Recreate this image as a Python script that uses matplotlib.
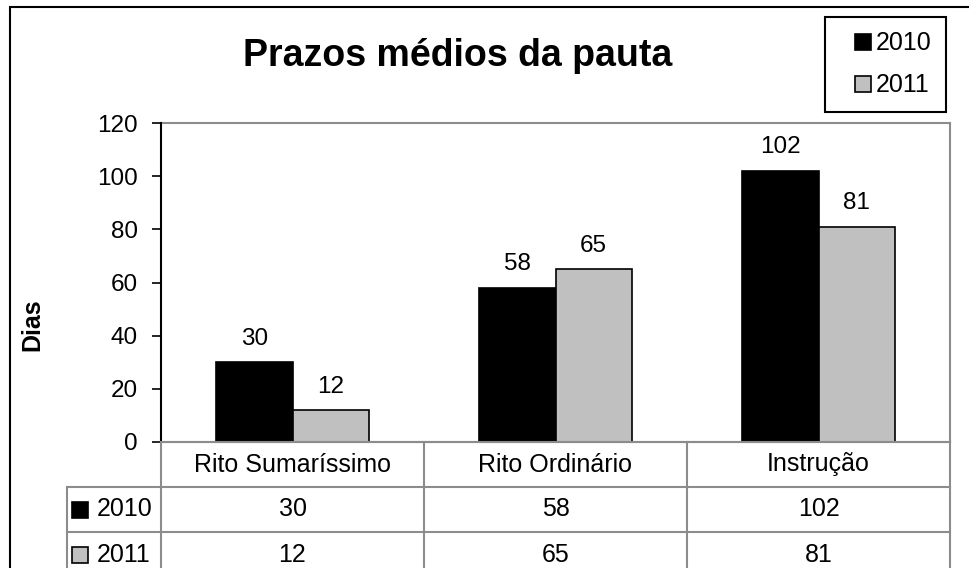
import matplotlib
matplotlib.use("Agg")
import matplotlib.pyplot as plt
from matplotlib.patches import Rectangle
from matplotlib.lines import Line2D

plt.rcParams['font.family'] = ['Liberation Sans', 'DejaVu Sans']

# dados
categorias = ["Rito Sumaríssimo", "Rito Ordinário", "Instrução"]
anos = ["2010", "2011"]
v2010 = [30, 58, 102]
v2011 = [12, 65, 81]
cores = ["#000000", "#C0C0C0"]
y_ticks = [0, 20, 40, 60, 80, 100, 120]

W, H = 969, 568
fig = plt.figure(figsize=(W / 100, H / 100), dpi=100)


def fx(x):
    return x / W


def fy(y):
    return 1 - y / H


# area do grafico (pixels)
L, R, T, B = 161, 950, 123, 442
ax = fig.add_axes([fx(L), fy(B), fx(R) - fx(L), fy(T) - fy(B)])

n = len(categorias)
larg = 0.29
xs = list(range(n))
grey_line = "#8c8c8c"
fs = 17.5

series = [v2010, v2011]
for i, vals in enumerate(series):
    pos = [x + (i - 0.5) * larg for x in xs]
    bars = ax.bar(pos, vals, width=larg, color=cores[i], edgecolor="black",
                  linewidth=1.2, label=anos[i], zorder=3)
    ax.bar_label(bars, padding=9, fontsize=fs)

ax.set_xlim(-0.5, n - 0.5)
ax.set_ylim(0, 120)
ax.set_yticks(y_ticks)
ax.set_xticks([])
ax.tick_params(axis="y", labelsize=fs, length=6.5, width=1.2, pad=10, direction="out")
for s in ["top", "right", "bottom"]:
    ax.spines[s].set_color(grey_line)
    ax.spines[s].set_linewidth(1.5)
ax.spines["left"].set_color("black")
ax.spines["left"].set_linewidth(1.5)
ax.spines["left"].set_zorder(5)

# tabela de dados
unit = (R - L) / n
lab_w = (L - 67) / unit
TB = 577
tab = fig.add_axes([fx(67), fy(TB), fx(R) - fx(67), fy(B) - fy(TB)])
tab.set_xlim(-0.5 - lab_w, n - 0.5)
tab.set_ylim(3, 0)
tab.axis("off")
x0 = -0.5 - lab_w
lw = 1.5
tab.plot([-0.5, n - 0.5], [0, 0], color=grey_line, lw=lw, clip_on=False)
for r in [1, 2]:
    tab.plot([x0, n - 0.5], [r, r], color=grey_line, lw=lw, clip_on=False)
tab.plot([x0, x0], [1, 3], color=grey_line, lw=lw, clip_on=False)
for c in range(n + 1):
    tab.plot([c - 0.5, c - 0.5], [0, 3], color=grey_line, lw=lw, clip_on=False)

for j, cat in enumerate(categorias):
    tab.text(j, 0.5, cat, ha="center", va="center", fontsize=18)
for i, vals in enumerate(series):
    tab.plot(x0 + 13.5 / unit, 1.5 + i, marker="s", markersize=11, mfc=cores[i],
             mec="black", mew=1.2, ls="none", clip_on=False)
    tab.text(x0 + 30 / unit, 1.5 + i, anos[i], ha="left", va="center", fontsize=18)
    for j, v in enumerate(vals):
        tab.text(j, 1.5 + i, str(v), ha="center", va="center", fontsize=18)

# legenda
handles = [Line2D([], [], marker="s", ls="none", markersize=11.5, mfc=cores[i],
                  mec="black", mew=1.2) for i in range(len(anos))]
leg = fig.legend(handles, anos, loc="upper right", bbox_to_anchor=(fx(946), fy(17)),
                 bbox_transform=fig.transFigure, fontsize=18, frameon=True,
                 fancybox=False, framealpha=1, edgecolor="black", borderpad=0.58,
                 labelspacing=0.72, handlelength=1.92, handletextpad=-0.45,
                 borderaxespad=0)
leg.get_frame().set_linewidth(1.5)

# titulo e eixo
fig.text(fx(458), fy(66), "Prazos médios da pauta", ha="center", va="baseline",
         fontsize=27, fontweight="bold")
fig.text(fx(32), fy(325), "Dias", rotation=90, ha="center", va="center",
         fontsize=18, fontweight="bold")

# borda externa
fig.add_artist(Rectangle((fx(10), -0.5), 2, fy(7) + 0.5, transform=fig.transFigure,
                         fill=False, edgecolor="black", linewidth=1.5))

fig.savefig("out.png", dpi=100)
